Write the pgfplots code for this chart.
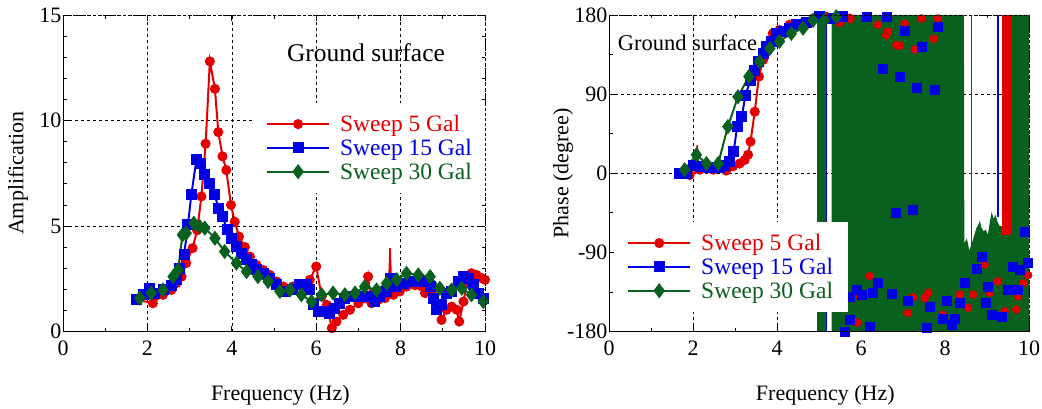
\documentclass[border=0pt]{standalone}
\usepackage{fontspec}
\setmainfont{Liberation Serif}
\usepackage{pgfplots}
\pgfplotsset{compat=1.18}
\definecolor{cred}{RGB}{228,0,0}
\definecolor{cblue}{RGB}{0,0,228}
\definecolor{cgreen}{RGB}{10,96,30}
\newcommand{\lblfont}{\fontsize{22}{24}\selectfont}
\newcommand{\legfont}{\fontsize{23.5}{25}\selectfont}

\pgfplotsset{
  layers/gridbelow/.define layer set={axis background,axis grid,main,axis ticks,axis lines,axis tick labels,axis descriptions,axis foreground}{},
  myax/.style={
    set layers=gridbelow,
    scale only axis, width=422pt, height=316.5pt,
    axis line style={draw=none},
    tick align=inside,
    major tick length=6pt, minor tick length=3.5pt,
    tick style={black, line width=0.8pt},
    grid=major,
    major grid style={black, line width=0.6pt, dash pattern=on 3pt off 3pt},
    ticklabel style={font=\lblfont},
    xticklabel style={yshift=-6pt},
    yticklabel style={xshift=2pt},
    label style={font=\lblfont},
    xmin=0, xmax=10, xtick={0,2,...,10}, xticklabels={0,2,4,6,8,10},
    minor x tick num=1,
    xlabel={Frequency (Hz)},
    xlabel style={at={(axis description cs:0.515,-0.2)}, anchor=center},
    legend cell align=left,
    legend image code/.code={\draw[mark repeat=2, mark phase=2] plot coordinates {(0pt,0pt) (31pt,0pt) (62pt,0pt)};},
    legend style={draw=none, fill=white, font=\legfont, inner xsep=13pt, inner ysep=10pt, row sep=2pt,
      /tikz/every odd column/.append style={column sep=8pt}},
    extra description/.code={
      \draw[black, line width=0.6pt, dash pattern=on 3pt off 2pt] (0,1) -- (1,1) -- (1,0);
      \draw[black, line width=0.9pt] (0,1) -- (0,0) -- (1,0);
    },
  },
  rline/.style={cred, line width=2pt, mark=*, mark size=4pt, mark options={solid, fill=cred}},
  bline/.style={cblue, line width=2pt, mark=square*, mark size=4.5pt, mark options={solid, fill=cblue}},
  gline/.style={cgreen, line width=2pt, mark=diamond*, mark size=6pt, mark options={solid, fill=cgreen}},
}

\begin{document}
\begin{tikzpicture}

% amplification
\begin{axis}[myax, at={(63pt,76.5pt)}, anchor=south west,
  ymin=0, ymax=15, ytick={0,5,10,15}, yticklabels={0,5,10,15},
  minor y tick num=4,
  ylabel={Amplification},
  ylabel style={at={(axis description cs:-0.107,0.5)}, anchor=center},
  legend style={at={(axis description cs:0.45,0.722)}, anchor=north west},
]
\addplot[rline] coordinates {
(1.78,1.5)(2.13,1.34)(2.37,1.74)(2.57,1.97)(2.69,2.29)(2.81,2.6)(2.92,3.24)(3.07,3.95)(3.18,4.8)(3.28,6.4)(3.38,8.9)(3.48,12.8)(3.6,11.5)(3.68,9.45)(3.78,8.3)(3.87,7.65)(3.98,6.0)(4.07,5.2)(4.17,4.5)(4.31,4.0)(4.43,3.55)(4.58,3.16)(4.74,2.92)(4.9,2.68)(5.06,2.37)(5.22,2.13)(5.45,2.13)(5.69,2.2)(5.85,2.45)(6.0,3.08)(6.13,1.66)(6.25,1.26)(6.37,0.16)(6.48,0.47)(6.64,0.79)(6.8,1.03)(7.0,1.34)(7.15,1.58)(7.23,2.6)(7.31,1.34)(7.47,1.5)(7.63,1.58)(7.83,1.74)(7.98,1.9)(8.14,2.13)(8.34,2.2)(8.5,2.13)(8.58,1.82)(8.74,1.9)(8.85,1.26)(8.97,0.55)(9.09,1.03)(9.21,1.18)(9.33,1.03)(9.39,0.47)(9.49,1.42)(9.57,2.29)(9.68,2.76)(9.8,2.68)(9.92,2.53)(10.0,2.45)
};
\addlegendentry{\textcolor{cred}{Sweep 5 Gal}}
\addplot[bline] coordinates {
(1.74,1.5)(1.9,1.74)(2.06,2.05)(2.17,1.82)(2.37,1.97)(2.57,2.2)(2.69,2.45)(2.77,3.0)(2.87,3.63)(2.96,5.05)(3.04,6.47)(3.16,8.13)(3.27,7.97)(3.36,7.42)(3.48,7.03)(3.6,6.47)(3.68,5.84)(3.78,5.45)(3.89,4.82)(3.99,4.42)(4.11,4.03)(4.23,3.71)(4.35,3.4)(4.47,3.16)(4.58,2.92)(4.74,2.76)(4.9,2.53)(5.06,2.21)(5.26,1.9)(5.45,1.97)(5.61,2.21)(5.77,2.21)(5.85,1.97)(5.93,1.26)(6.05,0.95)(6.21,0.95)(6.32,0.87)(6.44,1.1)(6.56,1.34)(6.68,1.58)(6.88,1.66)(7.11,1.66)(7.27,1.66)(7.39,1.42)(7.51,1.66)(7.67,1.9)(7.75,2.53)(7.91,2.13)(8.06,2.29)(8.26,2.37)(8.42,2.45)(8.54,2.37)(8.7,2.13)(8.77,1.58)(8.85,1.03)(8.97,1.26)(9.09,1.82)(9.21,1.9)(9.37,2.37)(9.49,2.6)(9.6,2.53)(9.72,2.21)(9.84,1.82)(9.96,1.58)
};
\addlegendentry{\textcolor{cblue}{Sweep 15 Gal}}
\addplot[gline] coordinates {
(1.82,1.58)(2.09,1.82)(2.37,1.97)(2.61,2.6)(2.73,2.92)(2.83,4.58)(2.92,4.66)(3.1,5.13)(3.24,4.97)(3.36,4.9)(3.6,4.42)(3.83,3.79)(4.11,3.24)(4.35,2.84)(4.62,2.6)(4.86,2.37)(5.14,1.9)(5.38,1.97)(5.65,1.74)(5.89,1.42)(6.13,1.74)(6.4,1.82)(6.68,1.74)(6.92,1.82)(7.15,2.13)(7.43,1.97)(7.67,2.29)(7.91,2.45)(8.14,2.76)(8.42,2.68)(8.7,2.6)(8.93,2.05)(9.21,1.97)(9.45,2.05)(9.68,1.74)(9.96,1.42)
};
\addlegendentry{\textcolor{cgreen}{Sweep 30 Gal}}
\addplot[cred, line width=1.6pt, forget plot] coordinates {(7.71,1.65)(7.75,3.95)(7.79,1.7)};
\node[font=\fontsize{25.5}{28}\selectfont] at (axis cs:7.18,13.2) {Ground surface};
\end{axis}

% phase
\begin{axis}[myax, at={(609pt,76.5pt)}, anchor=south west, width=420pt,
  ymin=-180, ymax=180, ytick={-180,-90,0,90,180}, yticklabels={-180,-90,0,90,180},
  minor y tick num=1,
  ylabel={Phase (degree)},
  ylabel style={at={(axis description cs:-0.1095,0.5)}, anchor=center},
  legend style={at={(axis description cs:0.012,0.346)}, anchor=north west},
]
% dense wrapped phase of the 30 Gal record
\addplot[fill=cgreen, draw=none, forget plot] coordinates {(4.95,-180)(4.95,180)(5.17,180)(5.17,-180)};
\addplot[fill=cgreen, draw=none, forget plot] coordinates {
(5.30,-180)(5.30,180)(8.45,180)(8.46,-80)(8.52,-74)(8.58,-88)(8.65,-78)(8.7,-70)(8.75,-62)(8.8,-58)(8.83,-54)(8.87,-62)(8.92,-66)(8.97,-64)(9.02,-70)(9.07,-55)(9.11,-44)(9.16,-52)(9.2,-47)(9.25,-55)(9.3,-60)(9.6,-60)(9.6,180)(10,180)(10,-180)};
\addplot[cgreen, line width=1pt, forget plot] coordinates {(8.62,180)(8.62,-90)};
\addplot[fill=cred, draw=none, forget plot] coordinates {(9.35,-70)(9.35,180)(9.59,180)(9.59,-70)};
\addplot[cblue, line width=1.2pt, forget plot] coordinates {(5.18,-180)(5.18,180)};
\addplot[cblue, line width=1.2pt, forget plot] coordinates {(9.26,-50)(9.26,180)};
\addplot[rline] coordinates {
(1.72,0)(1.92,-2)(2.16,4)(2.48,4)(2.79,3)(2.95,8)(3.11,11)(3.23,15)(3.31,21)(3.37,36)(3.47,70)(3.57,110)(3.67,129)(3.79,144)(3.9,159)(4.06,163)(4.3,169)(4.62,171)(4.86,176)(5.17,178)(5.49,172)(5.73,176)
};
\addlegendentry{\textcolor{cred}{Sweep 5 Gal}}
\addplot[bline] coordinates {
(1.68,0)(1.84,0)(2.0,9)(2.2,8)(2.4,6)(2.63,6)(2.75,9)(2.86,13)(2.97,25)(3.05,53)(3.16,64)(3.25,89)(3.37,106)(3.47,117)(3.57,127)(3.67,136)(3.75,144)(3.86,150)(3.98,159)(4.14,161)(4.3,165)(4.46,169)(4.7,172)(5.02,178)(5.33,176)(5.57,178)
};
\addlegendentry{\textcolor{cblue}{Sweep 15 Gal}}
\addplot[gline] coordinates {
(1.8,4)(2.08,21)(2.32,11)(2.6,11)(2.83,53)(3.07,87)(3.33,110)(3.59,127)(3.83,142)(4.06,150)(4.34,159)(4.62,165)(4.86,174)(5.13,174)(5.41,178)
};
\addlegendentry{\textcolor{cgreen}{Sweep 30 Gal}}
\addplot[cred, line width=1.6pt, forget plot] coordinates {(2.06,2)(2.1,32)(2.14,4)};
% scattered marks of the wrapped 5 and 15 Gal records
\addplot[only marks, mark=*, mark size=4pt, cred, forget plot] coordinates {
(6.4,169)(6.64,161)(6.6,157)(6.84,146)(6.92,145)(7.28,141)(7.04,170)(7.44,176)(7.83,176)(7.73,153)(6.21,-117)(5.97,-140)(5.91,-170)(7.12,-159)(7.24,-141)(7.52,-142)(7.6,-136)(7.95,-161)(8.35,-138)(8.55,-153)(8.67,-138)(8.94,-104)(9.06,-136)(9.26,-123)(9.42,-157)(9.74,-140)(9.86,-125)(9.7,-155)(9.98,-116)
};
\addplot[only marks, mark=square*, mark size=4.5pt, cblue, forget plot] coordinates {
(6.13,178)(6.6,178)(7.04,162)(7.44,144)(7.83,167)(6.52,119)(6.92,110)(7.32,97)(7.75,95)(6.83,-45)(7.22,-41)(5.73,-140)(5.9,-133)(6.01,-138)(6.4,-125)(6.29,-136)(6.72,-137)(7.12,-145)(7.63,-152)(8.03,-145)(7.56,-176)(5.73,-167)(5.61,-180)(6.21,-174)(7.95,-166)(8.15,-172)(8.23,-165)(8.35,-147)(8.47,-124)(8.75,-109)(8.87,-95)(8.98,-147)(9.1,-161)(9.34,-163)(9.5,-133)(9.6,-106)(9.72,-132)(9.78,-110)(9.9,-66)(9.98,-102)(9.02,-129)
};
\node[font=\fontsize{22.5}{26}\selectfont] at (axis cs:1.87,148) {Ground surface};
\end{axis}
\pgfresetboundingbox
\useasboundingbox (0,0) rectangle (1042pt,408pt);
\end{tikzpicture}
\end{document}
